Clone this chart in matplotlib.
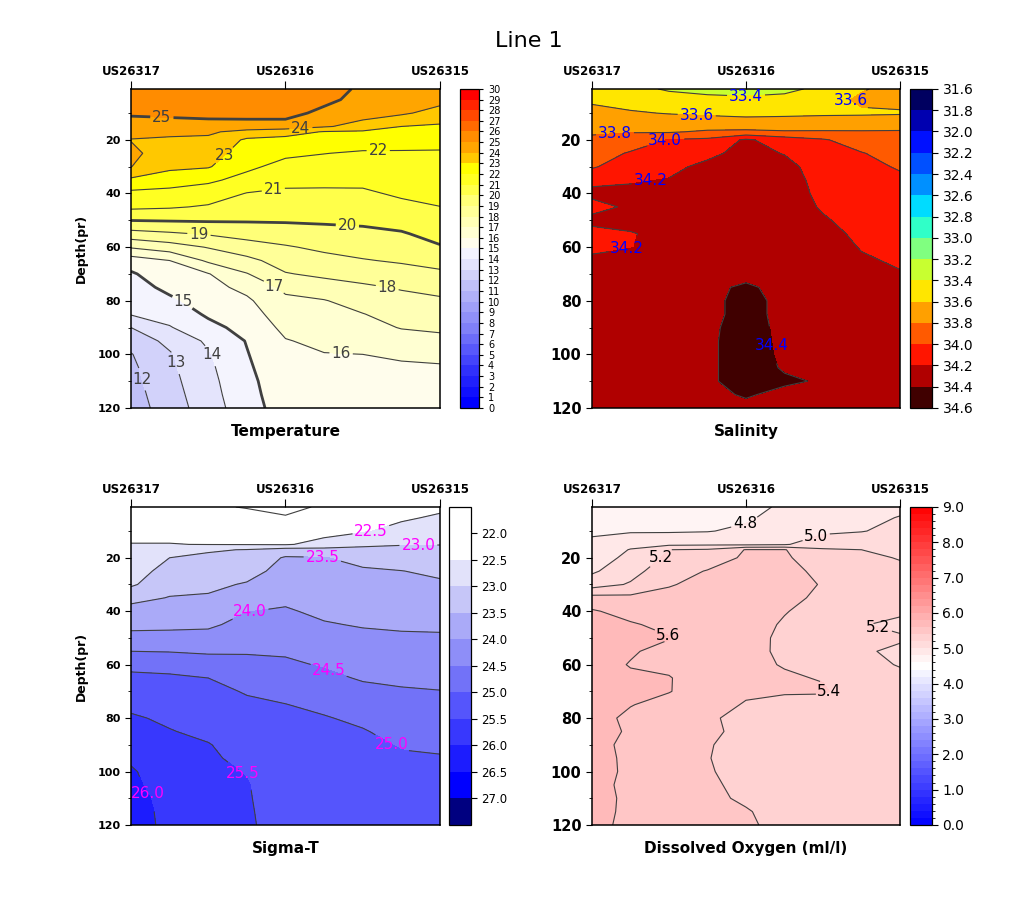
import numpy as np
import matplotlib.pyplot as plt
from matplotlib.ticker import MultipleLocator, FormatStrFormatter

plt.rcParams['font.family'] = ['DejaVu Sans']

stations = ['US26317', 'US26316', 'US26315']
station_x = [0.0, 0.5, 1.0]
section_x = [0.0, 0.125, 0.25, 0.375, 0.5, 0.625, 0.75, 0.875, 1.0]
depth = [1, 5, 10, 15, 17, 20, 25, 30, 35, 40, 45, 50, 55, 60, 65, 70, 75, 80, 85, 90, 95, 100, 105, 110, 115, 120]

# one profile per section_x position, values listed down the depth array
temp_profiles = [
    [25.8, 25.6, 25.15, 24.5, 24.25, 23.97, 24.2, 24.02, 22.8, 21.75, 21.2, 20.02, 18.65, 17.1, 15.5, 14.88, 14.61, 14.34, 14.07, 13.0, 12.37, 11.95, 11.8, 11.7, 11.6, 11.5],
    [25.8, 25.6, 25.25, 24.5, 24.19, 23.88, 23.54, 23.2, 22.5, 21.66, 21.1, 20.07, 18.87, 17.55, 16.0, 15.62, 15.23, 14.83, 14.39, 13.93, 13.27, 12.9, 12.8, 12.7, 12.6, 12.5],
    [25.8, 25.6, 25.35, 24.55, 24.14, 23.83, 23.45, 23.08, 22.17, 21.51, 20.9, 20.1, 19.1, 18.06, 17.18, 15.95, 15.68, 15.41, 15.14, 14.72, 14.17, 13.9, 13.8, 13.7, 13.6, 13.5],
    [25.8, 25.6, 25.4, 24.53, 23.7, 22.84, 22.52, 22.19, 21.69, 20.96, 20.52, 20.09, 19.37, 18.57, 17.74, 16.95, 16.27, 15.84, 15.58, 15.32, 15.05, 14.95, 14.85, 14.75, 14.7, 14.6],
    [25.8, 25.6, 25.4, 24.53, 23.4, 22.71, 22.18, 21.7, 21.25, 20.84, 20.47, 20.1, 19.53, 18.91, 18.43, 17.94, 17.22, 16.8, 16.51, 16.23, 15.95, 15.8, 15.7, 15.6, 15.5, 15.45],
    [25.6, 25.3, 24.7, 24.1, 22.94, 22.6, 22.02, 21.62, 21.22, 20.84, 20.48, 20.13, 19.69, 19.2, 18.7, 18.2, 17.57, 16.95, 16.7, 16.45, 16.2, 15.97, 15.85, 15.75, 15.68, 15.6],
    [24.75, 24.6, 24.35, 23.67, 22.86, 22.46, 21.89, 21.55, 21.21, 20.86, 20.52, 20.17, 19.79, 19.38, 18.94, 18.38, 17.85, 17.4, 16.97, 16.65, 16.32, 16.0, 15.9, 15.82, 15.76, 15.7],
    [24.6, 24.45, 24.15, 23.0, 22.75, 22.38, 21.9, 21.64, 21.38, 21.13, 20.78, 20.35, 19.92, 19.51, 19.11, 18.61, 18.08, 17.72, 17.38, 17.05, 16.56, 16.05, 15.95, 15.87, 15.8, 15.75],
    [24.5, 24.3, 23.64, 22.86, 22.64, 22.31, 21.9, 21.67, 21.45, 21.22, 20.99, 20.64, 20.3, 19.93, 19.36, 18.81, 18.3, 17.86, 17.52, 17.18, 16.72, 16.12, 15.95, 15.9, 15.85, 15.8],
]
salt_profiles = [
    [33.5, 33.57, 33.655, 33.745, 33.78, 33.83, 33.9, 33.98, 34.13, 34.27, 34.1, 34.28, 34.1, 34.12, 34.27, 34.3, 34.3, 34.3, 34.29, 34.3, 34.3, 34.3, 34.3, 34.3, 34.3, 34.3],
    [33.45, 33.52, 33.62, 33.74, 33.79, 33.88, 34.02, 34.1, 34.18, 34.25, 34.25, 34.3, 34.18, 34.19, 34.3, 34.32, 34.32, 34.32, 34.32, 34.32, 34.32, 34.32, 34.32, 34.32, 34.32, 34.32],
    [33.38, 33.47, 33.59, 33.74, 33.78, 34.01, 34.07, 34.15, 34.21, 34.26, 34.3, 34.3, 34.29, 34.3, 34.32, 34.32, 34.32, 34.32, 34.32, 34.32, 34.32, 34.32, 34.32, 34.32, 34.32, 34.32],
    [33.33, 33.46, 33.57, 33.73, 33.83, 34.04, 34.15, 34.25, 34.3, 34.32, 34.32, 34.32, 34.32, 34.32, 34.33, 34.33, 34.37, 34.35, 34.35, 34.36, 34.36, 34.36, 34.36, 34.36, 34.35, 34.33],
    [33.3, 33.45, 33.55, 33.72, 33.85, 34.23, 34.27, 34.3, 34.32, 34.33, 34.33, 34.34, 34.34, 34.35, 34.36, 34.36, 34.42, 34.46, 34.46, 34.48, 34.5, 34.5, 34.5, 34.5, 34.42, 34.35],
    [33.35, 33.46, 33.56, 33.72, 33.82, 34.1, 34.19, 34.27, 34.3, 34.3, 34.3, 34.3, 34.3, 34.3, 34.3, 34.3, 34.36, 34.35, 34.35, 34.35, 34.35, 34.36, 34.38, 34.43, 34.35, 34.33],
    [33.45, 33.5, 33.57, 33.73, 33.82, 34.02, 34.06, 34.09, 34.12, 34.15, 34.18, 34.22, 34.26, 34.28, 34.3, 34.3, 34.3, 34.3, 34.3, 34.3, 34.3, 34.3, 34.33, 34.38, 34.32, 34.3],
    [33.58, 33.64, 33.57, 33.76, 33.81, 33.9, 34.01, 34.03, 34.06, 34.08, 34.11, 34.13, 34.16, 34.19, 34.22, 34.25, 34.28, 34.28, 34.28, 34.28, 34.28, 34.28, 34.28, 34.29, 34.28, 34.28],
    [33.68, 33.66, 33.58, 33.77, 33.81, 33.85, 33.92, 33.99, 34.02, 34.05, 34.08, 34.1, 34.13, 34.16, 34.18, 34.21, 34.24, 34.26, 34.28, 34.28, 34.28, 34.28, 34.28, 34.28, 34.28, 34.28],
]
sigma_profiles = [
    [22.2, 22.3, 22.4, 22.51, 22.57, 22.65, 22.79, 22.93, 23.36, 23.67, 23.88, 24.14, 24.5, 24.88, 25.1, 25.26, 25.41, 25.55, 25.68, 25.8, 25.93, 26.05, 26.08, 26.12, 26.15, 26.18],
    [22.2, 22.3, 22.4, 22.51, 22.71, 23.0, 23.17, 23.34, 23.52, 23.71, 23.9, 24.14, 24.48, 24.84, 25.07, 25.19, 25.31, 25.43, 25.52, 25.56, 25.62, 25.75, 25.82, 25.88, 25.9, 25.9],
    [22.05, 22.18, 22.35, 22.49, 22.95, 23.09, 23.24, 23.4, 23.55, 23.74, 23.92, 24.16, 24.44, 24.72, 25.0, 25.11, 25.21, 25.31, 25.41, 25.52, 25.56, 25.6, 25.63, 25.66, 25.68, 25.7],
    [21.98, 22.12, 22.3, 22.48, 23.02, 23.14, 23.33, 23.54, 23.77, 23.99, 24.15, 24.3, 24.46, 24.63, 24.79, 24.97, 25.07, 25.15, 25.23, 25.32, 25.4, 25.48, 25.52, 25.53, 25.54, 25.55],
    [21.9, 22.03, 22.25, 22.46, 23.2, 23.55, 23.67, 23.79, 23.92, 24.04, 24.17, 24.31, 24.44, 24.58, 24.72, 24.87, 25.01, 25.08, 25.14, 25.19, 25.24, 25.28, 25.3, 25.32, 25.34, 25.35],
    [22.05, 22.19, 22.36, 22.64, 23.17, 23.52, 23.62, 23.72, 23.82, 23.92, 24.03, 24.17, 24.31, 24.46, 24.6, 24.75, 24.9, 25.03, 25.1, 25.16, 25.21, 25.26, 25.3, 25.33, 25.36, 25.38],
    [22.22, 22.3, 22.45, 22.92, 23.1, 23.35, 23.56, 23.67, 23.77, 23.87, 23.97, 24.09, 24.21, 24.34, 24.46, 24.61, 24.76, 24.91, 25.03, 25.1, 25.16, 25.22, 25.28, 25.32, 25.36, 25.4],
    [22.33, 22.43, 22.66, 22.98, 23.09, 23.25, 23.51, 23.62, 23.73, 23.84, 23.94, 24.06, 24.18, 24.3, 24.42, 24.54, 24.64, 24.76, 24.86, 24.97, 25.05, 25.12, 25.17, 25.22, 25.26, 25.3],
    [22.4, 22.57, 22.78, 22.99, 23.08, 23.2, 23.41, 23.57, 23.69, 23.81, 23.93, 24.05, 24.16, 24.28, 24.4, 24.51, 24.62, 24.72, 24.82, 24.93, 25.03, 25.1, 25.15, 25.2, 25.25, 25.3],
]
oxy_profiles = [
    [4.7, 4.73, 4.77, 4.84, 4.86, 4.9, 4.97, 5.11, 5.47, 5.62, 5.65, 5.67, 5.68, 5.68, 5.69, 5.7, 5.68, 5.69, 5.7, 5.68, 5.69, 5.7, 5.68, 5.69, 5.68, 5.67],
    [4.7, 4.73, 4.78, 4.94, 5.01, 5.05, 5.13, 5.22, 5.45, 5.53, 5.62, 5.64, 5.62, 5.59, 5.63, 5.64, 5.61, 5.55, 5.57, 5.54, 5.55, 5.55, 5.54, 5.55, 5.55, 5.54],
    [4.7, 4.73, 4.78, 4.96, 5.2, 5.24, 5.32, 5.39, 5.44, 5.49, 5.55, 5.61, 5.54, 5.56, 5.61, 5.61, 5.52, 5.48, 5.47, 5.47, 5.46, 5.46, 5.46, 5.47, 5.47, 5.47],
    [4.7, 4.73, 4.79, 4.97, 5.22, 5.3, 5.41, 5.44, 5.46, 5.47, 5.49, 5.5, 5.48, 5.49, 5.5, 5.48, 5.45, 5.42, 5.43, 5.41, 5.405, 5.41, 5.42, 5.43, 5.44, 5.45],
    [4.74, 4.77, 4.84, 4.96, 5.41, 5.43, 5.45, 5.47, 5.48, 5.49, 5.48, 5.47, 5.45, 5.44, 5.44, 5.42, 5.39, 5.36, 5.36, 5.35, 5.35, 5.36, 5.37, 5.38, 5.41, 5.42],
    [4.83, 4.88, 4.93, 4.98, 5.41, 5.43, 5.45, 5.46, 5.44, 5.41, 5.38, 5.36, 5.37, 5.39, 5.42, 5.41, 5.37, 5.34, 5.33, 5.32, 5.32, 5.33, 5.33, 5.34, 5.35, 5.36],
    [4.88, 4.9, 4.96, 5.12, 5.22, 5.28, 5.36, 5.39, 5.37, 5.33, 5.3, 5.29, 5.3, 5.32, 5.39, 5.42, 5.32, 5.3, 5.3, 5.29, 5.3, 5.3, 5.31, 5.31, 5.31, 5.32],
    [4.9, 4.94, 4.99, 5.15, 5.2, 5.24, 5.27, 5.28, 5.28, 5.26, 5.21, 5.26, 5.22, 5.25, 5.29, 5.3, 5.29, 5.29, 5.3, 5.29, 5.3, 5.29, 5.3, 5.29, 5.3, 5.29],
    [4.95, 5.01, 5.06, 5.13, 5.15, 5.19, 5.24, 5.26, 5.25, 5.23, 5.16, 5.22, 5.17, 5.19, 5.24, 5.26, 5.27, 5.27, 5.27, 5.28, 5.27, 5.28, 5.27, 5.28, 5.27, 5.28],
]

temp_colors = ['#0000ff', '#1010fe', '#2020fd', '#3030fc', '#4444fb', '#5858fa', '#6c6cf9', '#8080f8',
               '#9090f8', '#a0a0f8', '#b0b0f8', '#c0c0f8', '#d2d2fa', '#e4e4fc', '#f4f4fe', '#fffdec',
               '#ffffd2', '#ffffb6', '#ffff98', '#ffff78', '#ffff4a', '#ffff22', '#ffff00', '#ffc800',
               '#ffa500', '#ff8c00', '#ff6a00', '#ff4800', '#ff2400', '#ff0000']
salt_colors = ['#000060', '#0000b0', '#0010ff', '#0050ff', '#0090ff', '#00dcff', '#30ffc8', '#80ff80',
               '#c8ff30', '#ffe600', '#ffa000', '#ff5a00', '#ff1500', '#b00000', '#400000']
sigma_colors = ['#ffffff', '#ffffff', '#e2e2fa', '#c6c6f8', '#aaaaf8', '#8e8ef8', '#7272f8', '#5555fc',
                '#3838fd', '#1c1cfe', '#0000ff', '#000080']

X, Y = np.meshgrid(section_x, depth)
line_col = '#404040'

fig = plt.figure(figsize=(10.24, 9.01), dpi=100)
fig.text(0.516, 0.955, 'Line 1', ha='center', va='center', fontsize=16)


def panel(rect, crect, prof, fill_levels, line_levels, labels, fmt, lab_color, name,
          left, colors=None, cmap=None, thick=()):
    ax = fig.add_axes(rect)
    cax = fig.add_axes(crect)
    ax.set_xlim(0, 1)
    ax.set_ylim(120, 1)
    Z = np.array(prof).T
    if cmap is None:
        cf = ax.contourf(X, Y, Z, levels=fill_levels, colors=colors)
    else:
        cf = ax.contourf(X, Y, Z, levels=fill_levels, cmap=cmap)
    # one contour set per level so each can get its own label spots
    for lev in line_levels:
        lw = 2.0 if lev in thick else 0.8
        cs = ax.contour(X, Y, Z, levels=[lev], colors=line_col, linewidths=lw)
        spots = [(lx, ly) for lv, lx, ly in labels if abs(lv - lev) < 1e-6]
        if spots and len(cs.allsegs[0]) > 0:
            txts = ax.clabel(cs, manual=spots, fmt=fmt, colors=lab_color,
                             fontsize=11, inline=True, inline_spacing=2)
            for t in txts:
                t.set_rotation(0)
    ax.xaxis.tick_top()
    ax.set_xticks(station_x)
    ax.set_xticklabels(stations, fontsize=8.5, fontweight='bold')
    ax.tick_params(axis='x', direction='out', length=6, pad=2)
    ax.yaxis.set_major_locator(MultipleLocator(20))
    ax.yaxis.set_minor_locator(MultipleLocator(10))
    ax.tick_params(axis='y', which='major', length=4, direction='out')
    ax.tick_params(axis='y', which='minor', length=2.5, direction='out')
    for t in ax.get_yticklabels():
        t.set_fontweight('bold')
        t.set_fontsize(8 if left else 10.5)
    for s in ax.spines.values():
        s.set_linewidth(1.1)
    if left:
        ax.text(-0.16, 0.5, 'Depth(pr)', transform=ax.transAxes, rotation=90,
                ha='center', va='center', fontsize=9, fontweight='bold')
    ax.text(0.5, -0.05, name, transform=ax.transAxes, ha='center', va='top',
            fontsize=11, fontweight='bold')
    cb = fig.colorbar(cf, cax=cax)
    cb.outline.set_linewidth(0.9)
    return cb


cb = panel([0.1279, 0.5472, 0.3018, 0.3541], [0.4492, 0.5472, 0.0186, 0.3541], temp_profiles,
           np.arange(0, 31), list(range(12, 26)),
           [(25, 0.10, 11.5), (24, 0.55, 16.3), (23, 0.30, 25.5), (22, 0.80, 22.8),
            (21, 0.46, 38), (20, 0.70, 52.5), (19, 0.22, 55.2), (18, 0.83, 74.5),
            (17, 0.46, 75.5), (16, 0.68, 99.6), (15, 0.17, 80), (14, 0.27, 100),
            (13, 0.15, 103), (12, 0.045, 109)],
           '%d', line_col, 'Temperature', True, colors=temp_colors, thick=(15, 20, 25))
cb.set_ticks(np.arange(0, 31))
cb.ax.tick_params(labelsize=7, length=3)

salt_levels = np.round(np.arange(31.6, 34.61, 0.2), 1)
cb = panel([0.5781, 0.5472, 0.3008, 0.3541], [0.8887, 0.5472, 0.0215, 0.3541], salt_profiles,
           salt_levels, [33.4, 33.6, 33.8, 34.0, 34.2, 34.4],
           [(33.4, 0.5, 3.3), (33.6, 0.34, 11.0), (33.6, 0.83, 7.0), (33.8, 0.075, 18.3),
            (34.0, 0.237, 19.8), (34.2, 0.19, 35.5), (34.2, 0.11, 57.5), (34.4, 0.62, 96)],
           '%.1f', 'blue', 'Salinity', False, colors=salt_colors)
cb.set_ticks(salt_levels)
cb.ax.yaxis.set_major_formatter(FormatStrFormatter('%.1f'))
cb.ax.invert_yaxis()
cb.ax.tick_params(labelsize=10, length=4)

cb = panel([0.1279, 0.0844, 0.3018, 0.3529], [0.4385, 0.0844, 0.0215, 0.3529], sigma_profiles,
           np.arange(21.5, 27.51, 0.5), [22.0, 22.5, 23.0, 23.5, 24.0, 24.5, 25.0, 25.5, 26.0],
           [(22.5, 0.78, 12.0), (23.0, 0.93, 16.0), (23.5, 0.62, 19.0), (24.0, 0.385, 41),
            (24.5, 0.64, 62), (25.0, 0.84, 90.5), (25.5, 0.37, 100), (26.0, 0.06, 108)],
           '%.1f', 'magenta', 'Sigma-T', True, colors=sigma_colors)
cb.set_ticks(np.arange(22.0, 27.01, 0.5))
cb.ax.yaxis.set_major_formatter(FormatStrFormatter('%.1f'))
cb.ax.invert_yaxis()
cb.ax.tick_params(labelsize=8.5, length=4)

cb = panel([0.5781, 0.0844, 0.3008, 0.3529], [0.8887, 0.0844, 0.0215, 0.3529], oxy_profiles,
           np.linspace(0, 9, 46), [4.8, 5.0, 5.2, 5.4, 5.6],
           [(4.8, 0.50, 9.0), (5.0, 0.73, 13.0), (5.2, 0.22, 19.5), (5.6, 0.25, 48),
            (5.2, 0.93, 46), (5.4, 0.78, 69.5)],
           '%.1f', 'black', 'Dissolved Oxygen (ml/l)', False, cmap='bwr')
cb.set_ticks(np.arange(0, 9.01, 1.0))
cb.ax.yaxis.set_major_formatter(FormatStrFormatter('%.1f'))
cb.ax.yaxis.set_minor_locator(MultipleLocator(0.2))
cb.ax.tick_params(labelsize=10, length=4)
cb.ax.tick_params(which='minor', length=2)

fig.savefig('out.png', dpi=100)
